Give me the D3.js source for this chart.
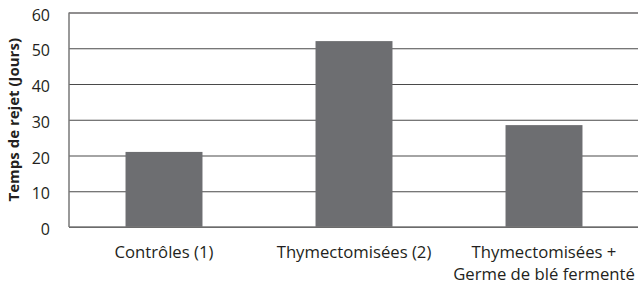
<!DOCTYPE html>
<html>
<head>
<meta charset="utf-8">
<script src="https://cdn.jsdelivr.net/npm/d3@7"></script>
<style>
  body { margin: 0; background: #fff; }
  svg text { font-family: "Open Sans", sans-serif; fill: #231f20; }
</style>
</head>
<body>
<div id="chart"></div>
<script>
// categories (label lines) and values in days
const categories = ["Contrôles (1)", "Thymectomisées (2)", "Thymectomisées +\nGerme de blé fermenté"];
const values = [21, 52, 28.5];
const yTicks = [0, 10, 20, 30, 40, 50, 60];
const yTitle = "Temps de rejet (Jours)";

const width = 638, height = 281;
const margin = {top: 12.5, right: -1, bottom: 54, left: 69};

const svg = d3.select("#chart").append("svg")
  .attr("width", width)
  .attr("height", height);

const x = d3.scaleBand()
  .domain(categories)
  .range([margin.left, width - margin.right])
  .paddingInner(0.595)
  .paddingOuter(0.2975);

const y = d3.scaleLinear()
  .domain([0, 60])
  .range([height - margin.bottom, margin.top]);

// gridlines + y labels
const yAxis = svg.append("g")
  .attr("transform", `translate(${margin.left},0)`)
  .call(d3.axisLeft(y).tickValues(yTicks).tickSize(-(width - margin.left - margin.right)).tickPadding(19));

yAxis.select(".domain").remove();
yAxis.selectAll(".tick line")
  .attr("stroke", d => d === 60 ? "#231f20" : "#4a4a4a")
  .attr("stroke-width", 1.2);
yAxis.selectAll(".tick text")
  .attr("dy", "0.47em")
  .style("font-size", "16px");

// bars
svg.append("g")
  .selectAll("rect")
  .data(values)
  .join("rect")
  .attr("x", (d, i) => x(categories[i]))
  .attr("y", d => y(d))
  .attr("width", x.bandwidth())
  .attr("height", d => y(0) - y(d))
  .attr("fill", "#6d6e71");

// axis lines
svg.append("line")
  .attr("x1", margin.left).attr("x2", width)
  .attr("y1", y(0)).attr("y2", y(0))
  .attr("stroke", "#777").attr("stroke-width", 1.5);
svg.append("line")
  .attr("x1", margin.left).attr("x2", margin.left)
  .attr("y1", y(60)).attr("y2", y(0))
  .attr("stroke", "#777").attr("stroke-width", 1.5);

// x labels
const xl = svg.append("g")
  .selectAll("text")
  .data(categories)
  .join("text")
  .attr("x", d => x(d) + x.bandwidth() / 2)
  .attr("y", 258)
  .attr("text-anchor", "middle")
  .style("font-size", "16.7px");
xl.each(function (d) {
  d.split("\n").forEach((line, i) => {
    d3.select(this).append("tspan")
      .attr("x", x(d) + x.bandwidth() / 2)
      .attr("dy", i === 0 ? 0 : 22)
      .text(line);
  });
});

// y title
svg.append("text")
  .attr("transform", `translate(19,${(y(0) + y(60)) / 2}) rotate(-90)`)
  .attr("text-anchor", "middle")
  .style("font-size", "15px")
  .style("font-weight", "bold")
  .text(yTitle);
</script>
</body>
</html>
